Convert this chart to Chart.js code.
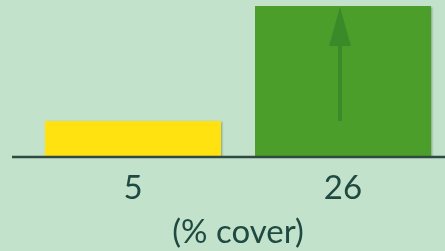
<!DOCTYPE html>
<html>
<head>
<meta charset="utf-8">
<script src="https://cdn.jsdelivr.net/npm/chart.js@4.4.1/dist/chart.umd.min.js"></script>
<style>
  html, body { margin: 0; padding: 0; background: #c3e2cb; overflow: hidden; }
  #wrap { width: 460px; height: 251px; }
</style>
</head>
<body>
<div id="wrap"><canvas id="coverChart"></canvas></div>
<script>
// data
const categories = ["5", "26"];
const coverHeights = [6.2, 26];
const barColors = ["#ffe20f", "#4c9e2b"];
const axisTitle = "(% cover)";

const textColor = "#1f4a42";

// soft shadow on the right / bottom of the bars
const shadowPlugin = {
  id: "barShadow",
  beforeDatasetsDraw(chart) {
    const ctx = chart.ctx;
    ctx.save();
    ctx.shadowColor = "rgba(0, 40, 0, 0.35)";
    ctx.shadowBlur = 2;
    ctx.shadowOffsetX = 1.5;
    ctx.shadowOffsetY = 1;
  },
  afterDatasetsDraw(chart) {
    chart.ctx.restore();
  }
};

// axis line across the whole width, drawn over the bar bottoms
const baseLinePlugin = {
  id: "baseLine",
  afterDatasetsDraw(chart) {
    const ctx = chart.ctx;
    const y0 = chart.scales.y.getPixelForValue(0);
    ctx.save();
    ctx.strokeStyle = "#2f4a40";
    ctx.lineWidth = 2.5;
    ctx.beginPath();
    ctx.moveTo(12, y0);
    ctx.lineTo(chart.width, y0);
    ctx.stroke();
    ctx.restore();
  }
};

// arrow inside the green bar, from the yellow level up to the green level
const arrowPlugin = {
  id: "arrow",
  afterDatasetsDraw(chart) {
    const ctx = chart.ctx;
    const bar = chart.getDatasetMeta(0).data[1];
    const yScale = chart.scales.y;
    const x = bar.x - 3;
    const yFrom = yScale.getPixelForValue(coverHeights[0]);
    const yTo = yScale.getPixelForValue(coverHeights[1]);
    ctx.save();
    ctx.fillStyle = "#3b8a2a";
    ctx.fillRect(x - 2, yTo + 30, 4, yFrom - yTo - 30);
    ctx.beginPath();
    ctx.moveTo(x, yTo + 1);
    ctx.lineTo(x + 11, yTo + 40);
    ctx.lineTo(x - 11, yTo + 40);
    ctx.closePath();
    ctx.fill();
    ctx.restore();
  }
};

new Chart(document.getElementById("coverChart"), {
  type: "bar",
  data: {
    labels: categories,
    datasets: [
      {
        data: coverHeights,
        backgroundColor: barColors,
        borderWidth: 0,
        categoryPercentage: 1,
        barPercentage: 0.838
      }
    ]
  },
  options: {
    responsive: true,
    maintainAspectRatio: false,
    animation: false,
    layout: { padding: { left: 28, right: 12, top: 6, bottom: 0 } },
    plugins: {
      legend: { display: false },
      tooltip: { enabled: false }
    },
    scales: {
      x: {
        grid: { display: false, drawTicks: false },
        border: { display: false },
        ticks: {
          color: textColor,
          padding: 14.5,
          font: { family: "Lato", size: 33, lineHeight: 1 }
        },
        title: {
          display: true,
          text: axisTitle,
          color: textColor,
          padding: { top: 2, bottom: 7 },
          font: { family: "Lato", size: 33, lineHeight: 0.7 }
        }
      },
      y: {
        display: false,
        min: 0,
        max: 26
      }
    }
  },
  plugins: [shadowPlugin, baseLinePlugin, arrowPlugin]
});
</script>
</body>
</html>
